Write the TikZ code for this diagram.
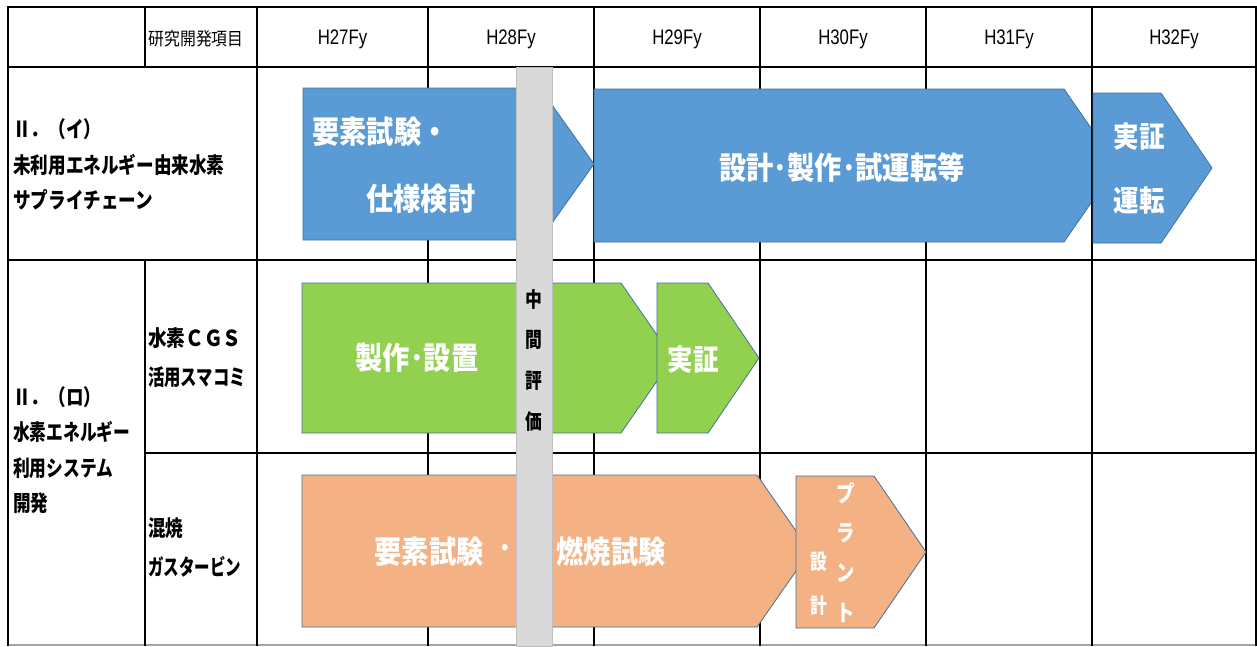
\documentclass[tikz,border=0pt]{standalone}
\usepackage{fontspec}
\usepackage{graphicx}
\setmainfont{Liberation Sans}
\newfontfamily\jp[FakeStretch=0.88]{Noto Sans CJK JP}
\newfontfamily\jpn[FakeStretch=0.8]{Noto Sans CJK JP}
\newfontfamily\hdr[FakeStretch=0.8]{Liberation Sans}
\definecolor{ablue}{HTML}{5B9BD5}
\definecolor{agreen}{HTML}{92D050}
\definecolor{aorange}{HTML}{F4B183}
\definecolor{aedge}{HTML}{41719C}
\definecolor{barfill}{HTML}{D9D9D9}
\definecolor{baredge}{HTML}{BFBFBF}
\definecolor{botline}{HTML}{A6A6A6}
\newcommand\pentarrow[6]{%
  \filldraw[arrowbox, fill=#6] (#1,#4) -- (#2,#4) -- (#3,{(#4+#5)/2}) -- (#2,#5) -- (#1,#5) -- cycle;}
\begin{document}
\begin{tikzpicture}[x=1pt,y=-1pt,
  tline/.style={line width=2.6pt, black, line cap=rect},
  arrowbox/.style={draw=aedge, line width=0.8pt},
  hd/.style={font=\hdr\fontsize{21}{21}\selectfont, inner sep=0},
  jh/.style={font=\jp\fontsize{18}{18}\selectfont, inner sep=0},
  lbl/.style={font=\jpn\bfseries\fontsize{22}{22}\selectfont, anchor=west, inner sep=0},
  wt/.style={font=\jp\bfseries\fontsize{31}{31}\selectfont, text=white, inner sep=0},
  wts/.style={font=\jp\bfseries\fontsize{29}{29}\selectfont, text=white, inner sep=0},
  vt/.style={font=\jpn\bfseries\fontsize{23}{23}\selectfont, text=white, inner sep=0},
  vts/.style={font=\jpn\bfseries\fontsize{21}{21}\selectfont, text=white, inner sep=0},
  mid/.style={font=\jpn\bfseries\fontsize{21}{21}\selectfont, inner sep=0}]
\useasboundingbox (0,0) rectangle (1257,646);
\fill[white] (0,0) rectangle (1257,646);
% grid
\draw[botline, line width=1.2pt] (8,645) -- (1256,645);
\draw[tline] (8,7) -- (1256,7);
\draw[tline] (8,67) -- (1256,67);
\draw[tline] (8,260) -- (1256,260);
\draw[tline] (145,453) -- (1256,453);
\draw[tline] (8,7) -- (8,645);
\draw[tline] (1256,7) -- (1256,645);
\draw[tline] (145,7) -- (145,67);
\draw[tline] (145,260) -- (145,645);
\foreach \xx in {257,428,594,760,926}{\draw[tline] (\xx,7) -- (\xx,645);}
% header
\node[jh] (hitem) at (196,39) {研究開発項目};
\node[hd] (h27) at (342.5,39) {H27Fy};
\node[hd] (h28) at (511,39) {H28Fy};
\node[hd] (h29) at (677,39) {H29Fy};
\node[hd] (h30) at (843,39) {H30Fy};
\node[hd] (h31) at (1009,39) {H31Fy};
\node[hd] (h32) at (1174,39) {H32Fy};
% row labels
\node[lbl] (r1a) at (13,129) {Ⅱ．（イ）};
\node[lbl] (r1b) at (13,165) {未利用エネルギー由来水素};
\node[lbl] (r1c) at (13,200) {サプライチェーン};
\node[lbl] (r2a) at (13,397) {Ⅱ．（ロ）};
\node[lbl] (r2b) at (13,432) {\scalebox{0.95}[1]{水素エネルギー}};
\node[lbl] (r2c) at (13,468) {\scalebox{0.95}[1]{利用システム}};
\node[lbl] (r2d) at (13,503) {開発};
\node[lbl] (c1a) at (148,338) {\scalebox{1.06}[1]{水素ＣＧＳ}};
\node[lbl] (c1b) at (148,377) {\scalebox{0.93}[1]{活用スマコミ}};
\node[lbl] (c2a) at (148,528) {混焼};
\node[lbl] (c2b) at (148,567) {\scalebox{0.88}[1]{ガスタービン}};
% arrows row 1
\pentarrow{303}{540}{594}{88}{240}{ablue}
\pentarrow{594}{1064}{1117}{89}{242}{ablue}
\draw[tline] (1092,7) -- (1092,645);
\pentarrow{1093}{1161}{1212}{93}{243}{ablue}
% arrows row 2
\pentarrow{302}{621}{673}{283}{433}{agreen}
\pentarrow{657}{708}{759}{283}{433}{agreen}
% arrows row 3
\pentarrow{302}{757}{810}{475}{627}{aorange}
\pentarrow{796}{874}{926}{476}{628}{aorange}
% arrow texts
\node[wt, anchor=west] (t1a) at (312,132) {要素試験・};
\node[wt, anchor=west] (t1b) at (366,199) {仕様検討};
\node[wt] (t2) at (842,168) {設計･製作･試運転等};
\node[wts] (t3a) at (1139,137) {実証};
\node[wts] (t3b) at (1139,200) {運転};
\node[wt] (g1) at (417,358) {製作･設置};
\node[wts] (g2) at (693,360) {実証};
\node[wt] (o1a) at (429,552) {要素試験};
\node[wt] (o1b) at (505,552) {･};
\node[wt] (o1c) at (611,552) {燃焼試験};
\node[vt] (p1) at (846,493) {プ};
\node[vt] (p2) at (846,533) {ラ};
\node[vt] (p3) at (846,573) {ン};
\node[vt] (p4) at (846,613) {ト};
\node[vts] (s1) at (819,562) {設};
\node[vts] (s2) at (819,606) {計};
% mid-term bar
\filldraw[fill=barfill, draw=baredge, line width=1pt] (516,67) rectangle (552,646);
\node[mid] (m1) at (534,300) {中};
\node[mid] (m2) at (534,340) {間};
\node[mid] (m3) at (534,381) {評};
\node[mid] (m4) at (534,422) {価};
\end{tikzpicture}
\end{document}
